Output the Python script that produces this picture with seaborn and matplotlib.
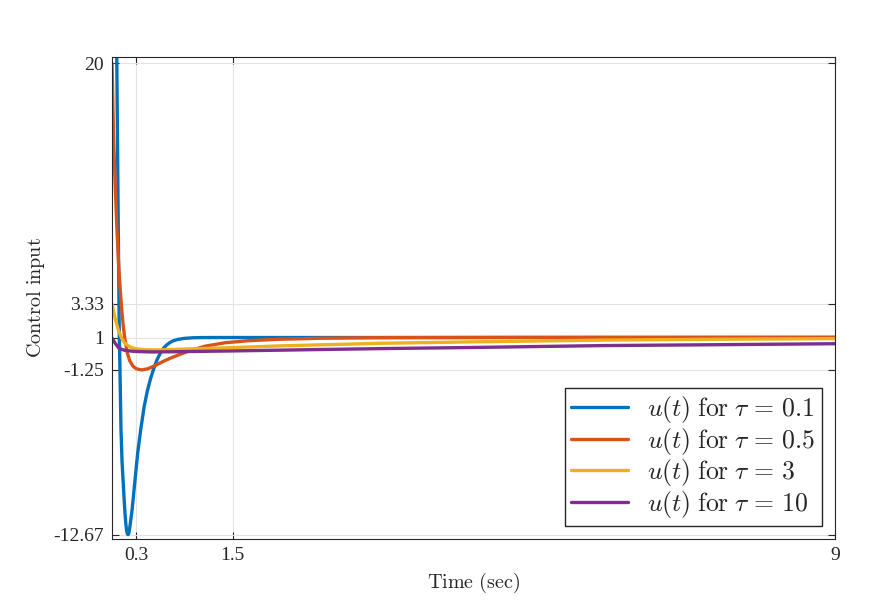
import pandas as pd
import seaborn as sns
import matplotlib.pyplot as plt

# values
t_tau01 = [0.0, 0.03, 0.06, 0.075, 0.09, 0.1, 0.112, 0.125, 0.141, 0.152, 0.162, 0.172,
           0.182, 0.192, 0.2, 0.208, 0.218, 0.23, 0.249, 0.267, 0.286, 0.32, 0.357, 0.4,
           0.44, 0.48, 0.52, 0.56, 0.6, 0.64, 0.68, 0.72, 0.76, 0.82, 0.9, 1.0, 1.1, 1.3,
           2.0, 9.0]
u_tau01 = [70.0, 40.0, 20.0, 10.5, 1.5, -1.5, -5.4, -7.6, -9.2, -10.3, -11.2, -11.9,
           -12.4, -12.62, -12.67, -12.6, -12.3, -11.8, -11.0, -10.0, -8.9, -7.0, -5.4,
           -3.8, -2.7, -1.85, -1.15, -0.55, -0.1, 0.25, 0.48, 0.65, 0.77, 0.87, 0.94,
           0.98, 0.995, 1.0, 1.0, 1.0]

t_tau05 = [0.0, 0.02, 0.04, 0.06, 0.08, 0.1, 0.12, 0.14, 0.16, 0.19, 0.22, 0.26, 0.3,
           0.37, 0.45, 0.535, 0.64, 0.74, 0.85, 0.95, 1.16, 1.41, 1.7, 2.09, 2.6, 3.3,
           5.0, 9.0]
u_tau05 = [20.0, 14.8, 11.5, 8.7, 6.3, 4.5, 3.0, 1.8, 0.9, -0.05, -0.6, -0.98, -1.16,
           -1.25, -1.16, -0.95, -0.65, -0.4, -0.16, 0.05, 0.4, 0.64, 0.78, 0.88, 0.95,
           0.99, 1.01, 1.02]

t_tau3 = [0.0, 0.04, 0.08, 0.12, 0.16, 0.22, 0.29, 0.4, 0.56, 0.85, 1.4, 2.09, 3.34,
          4.5, 6.1, 7.5, 9.0]
u_tau3 = [3.33, 2.3, 1.5, 0.95, 0.6, 0.35, 0.22, 0.16, 0.14, 0.19, 0.28, 0.42, 0.6,
          0.7, 0.82, 0.88, 0.92]

t_tau10 = [0.0, 0.04, 0.08, 0.12, 0.16, 0.29, 0.5, 0.85, 1.5, 2.5, 3.34, 4.5, 6.1,
           7.5, 9.0]
u_tau10 = [0.97, 0.6, 0.3, 0.18, 0.11, 0.03, 0.0, 0.02, 0.07, 0.16, 0.23, 0.31, 0.44,
           0.5, 0.57]

labels = [r'$u(t)\;\mathrm{for}\;\tau\,=\,0.1$', r'$u(t)\;\mathrm{for}\;\tau\,=\,0.5$',
          r'$u(t)\;\mathrm{for}\;\tau\,=\,3$', r'$u(t)\;\mathrm{for}\;\tau\,=\,10$']
colors = ['#0072BD', '#D95319', '#EDB120', '#7E2F8E']

xticks = [0.3, 1.5, 9]
yticks = [-12.67, -1.25, 1, 3.33, 20]
ytick_labels = ['-12.67', '-1.25', '1', '3.33', '20']

frames = []
for lab, t, u in zip(labels, [t_tau01, t_tau05, t_tau3, t_tau10],
                     [u_tau01, u_tau05, u_tau3, u_tau10]):
    frames.append(pd.DataFrame({'t': t, 'u': u, 'series': lab}))
df = pd.concat(frames, ignore_index=True)

sns.set_theme(style='ticks')
plt.rcParams['font.family'] = ['Liberation Serif', 'DejaVu Serif']
plt.rcParams['mathtext.fontset'] = 'cm'

fig = plt.figure(figsize=(8.73, 6.02), dpi=100)
ax = fig.add_axes([112 / 873, 63 / 602, 723 / 873, 482 / 602])

sns.lineplot(data=df, x='t', y='u', hue='series', palette=colors, linewidth=2.4,
             sort=False, estimator=None, ax=ax)

ax.set_xlim(0, 9)
ax.set_ylim(-12.97, 20.45)
ax.set_xticks(xticks)
ax.set_xticklabels([str(x) for x in xticks])
ax.set_yticks(yticks)
ax.set_yticklabels(ytick_labels)
ax.grid(True, color='#e3e3e3', linewidth=0.8)
ax.set_axisbelow(True)
ax.tick_params(direction='in', top=True, right=True, length=5, width=0.8,
               colors='#262626', labelsize=14, pad=6)
for sp in ax.spines.values():
    sp.set_linewidth(0.8)
    sp.set_color('#262626')

ax.set_xlabel(r'$\mathrm{Time\ (sec)}$', fontsize=14.5, labelpad=5)
ax.set_ylabel(r'$\mathrm{Control\ input}$', fontsize=14.5, labelpad=4)

sns.move_legend(ax, 'lower right', bbox_to_anchor=(0.982, 0.027), borderaxespad=0,
                title=None, fontsize=18.5, frameon=True, fancybox=False, framealpha=1,
                edgecolor='#262626', handlelength=2.2, handletextpad=0.75,
                labelspacing=0.02, borderpad=0.25)
for line in ax.get_legend().get_lines():
    line.set_linewidth(2.4)

fig.savefig('out.png', dpi=100)
